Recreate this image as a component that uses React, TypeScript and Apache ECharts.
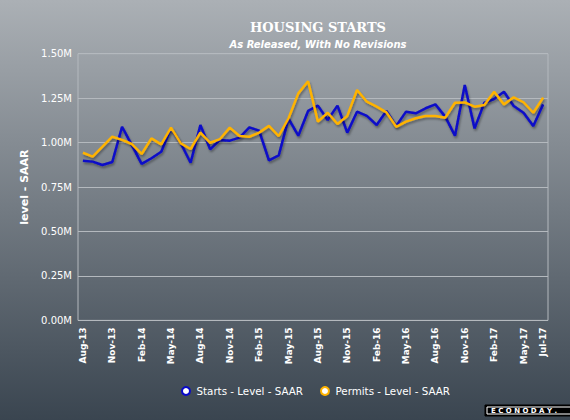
import React, { useEffect, useRef } from "react";
import * as echarts from "echarts";

const months = [
  "Aug-13","Sep-13","Oct-13","Nov-13","Dec-13","Jan-14","Feb-14","Mar-14","Apr-14","May-14","Jun-14","Jul-14",
  "Aug-14","Sep-14","Oct-14","Nov-14","Dec-14","Jan-15","Feb-15","Mar-15","Apr-15","May-15","Jun-15","Jul-15",
  "Aug-15","Sep-15","Oct-15","Nov-15","Dec-15","Jan-16","Feb-16","Mar-16","Apr-16","May-16","Jun-16","Jul-16",
  "Aug-16","Sep-16","Oct-16","Nov-16","Dec-16","Jan-17","Feb-17","Mar-17","Apr-17","May-17","Jun-17","Jul-17",
];

// millions, SAAR
const starts = [
  0.898, 0.893, 0.874, 0.891, 1.089, 0.986, 0.880, 0.912, 0.949, 1.080, 0.996, 0.887,
  1.099, 0.962, 1.015, 1.011, 1.028, 1.086, 1.067, 0.900, 0.928, 1.135, 1.039, 1.178,
  1.208, 1.127, 1.208, 1.056, 1.174, 1.150, 1.099, 1.178, 1.093, 1.174, 1.165, 1.193,
  1.215, 1.146, 1.039, 1.324, 1.080, 1.224, 1.245, 1.286, 1.206, 1.168, 1.093, 1.215,
];

const permits = [
  0.943, 0.921, 0.977, 1.033, 1.015, 0.992, 0.936, 1.024, 0.990, 1.084, 0.996, 0.964,
  1.056, 0.999, 1.020, 1.084, 1.037, 1.033, 1.056, 1.094, 1.037, 1.137, 1.277, 1.345,
  1.118, 1.168, 1.105, 1.150, 1.296, 1.230, 1.202, 1.170, 1.089, 1.118, 1.137, 1.150,
  1.150, 1.140, 1.224, 1.226, 1.202, 1.211, 1.286, 1.215, 1.255, 1.227, 1.168, 1.253,
];

const yTicks = [0, 0.25, 0.5, 0.75, 1.0, 1.25, 1.5];

const BLUE = "#0a0ac8";
const ORANGE = "#ffb300";

export default function App() {
  const ref = useRef<HTMLDivElement>(null);
  useEffect(() => {
    if (!ref.current) return;
    const chart = echarts.init(ref.current, null, { renderer: "svg" });
    chart.setOption({
      animation: false,
      backgroundColor: new echarts.graphic.LinearGradient(0, 0, 0, 1, [
        { offset: 0, color: "#abb0b5" },
        { offset: 1, color: "#3a4550" },
      ]),
      title: {
        text: "HOUSING STARTS",
        subtext: "As Released, With No Revisions",
        left: 313,
        textAlign: "center",
        top: 16,
        itemGap: 5,
        textStyle: {
          color: "#ffffff",
          fontFamily: "DejaVu Serif",
          fontWeight: "bold",
          fontSize: 13,
        },
        subtextStyle: {
          color: "#ffffff",
          fontFamily: "DejaVu Sans",
          fontWeight: "bold",
          fontStyle: "italic",
          fontSize: 10,
        },
      },
      legend: {
        left: 176,
        top: 381,
        itemWidth: 11,
        itemHeight: 8,
        itemGap: 17,
        icon: "circle",
        textStyle: { color: "#ffffff", fontFamily: "DejaVu Sans", fontSize: 10.3 },
        data: [
          { name: "Starts - Level - SAAR", itemStyle: { color: "#ffffff", borderColor: BLUE, borderWidth: 2 } },
          { name: "Permits - Level - SAAR", itemStyle: { color: "#ffffff", borderColor: ORANGE, borderWidth: 2 } },
        ],
      },
      grid: {
        left: 78,
        right: 22,
        top: 53.7,
        bottom: 99.6,
        show: true,
        borderColor: "#b4b9be",
        borderWidth: 1,
        backgroundColor: "transparent",
      },
      xAxis: {
        type: "category",
        data: months,
        boundaryGap: true,
        axisLine: { show: false },
        axisTick: { show: false },
        splitLine: { show: false },
        axisLabel: {
          rotate: 90,
          color: "#ffffff",
          fontFamily: "DejaVu Sans",
          fontWeight: "bold",
          fontSize: 9,
          margin: 7,
          interval: (i: number) => i % 3 === 0 || i === months.length - 1,
        },
      },
      yAxis: {
        type: "value",
        min: yTicks[0],
        max: yTicks[yTicks.length - 1],
        interval: 0.25,
        name: "level - SAAR",
        nameLocation: "middle",
        nameGap: 43,
        nameRotate: 90,
        nameTextStyle: {
          color: "#ffffff",
          fontFamily: "DejaVu Sans",
          fontWeight: "bold",
          fontSize: 11,
        },
        axisLine: { show: false },
        axisTick: { show: false },
        splitLine: { lineStyle: { color: "#b4b9be", width: 1 } },
        axisLabel: {
          color: "#ffffff",
          fontFamily: "DejaVu Sans",
          fontSize: 10,
          margin: 6,
          formatter: (v: number) => v.toFixed(2) + "M",
        },
      },
      series: [
        {
          name: "Starts - Level - SAAR",
          type: "line",
          data: starts,
          showSymbol: false,
          symbol: "none",
          lineStyle: {
            color: BLUE,
            width: 2.5,
            shadowColor: "rgba(0,0,0,0.35)",
            shadowBlur: 2,
            shadowOffsetY: 2,
            shadowOffsetX: 1,
          },
          itemStyle: { color: BLUE },
          z: 2,
        },
        {
          name: "Permits - Level - SAAR",
          type: "line",
          data: permits,
          showSymbol: false,
          symbol: "none",
          lineStyle: {
            color: ORANGE,
            width: 2.5,
            shadowColor: "rgba(0,0,0,0.35)",
            shadowBlur: 2,
            shadowOffsetY: 2,
            shadowOffsetX: 1,
          },
          itemStyle: { color: ORANGE },
          z: 3,
        },
      ],
      graphic: [
        {
          type: "rect",
          shape: { x: 485, y: 405, width: 90, height: 11 },
          style: { fill: "#000000", stroke: "#000000" },
        },
        {
          type: "rect",
          shape: { x: 487, y: 407, width: 86, height: 7 },
          style: { fill: "none", stroke: "#ffffff", lineWidth: 1 },
        },
        {
          type: "text",
          x: 491,
          y: 410.5,
          style: {
            text: "E C O N O D A Y .",
            fill: "#ffffff",
            font: "bold 7px DejaVu Sans",
            textVerticalAlign: "middle",
          },
        },
      ],
    });
    return () => chart.dispose();
  }, []);
  return (
    <div
      ref={ref}
      style={{ position: "absolute", left: 0, top: 0, width: 570, height: 420 }}
    />
  );
}
